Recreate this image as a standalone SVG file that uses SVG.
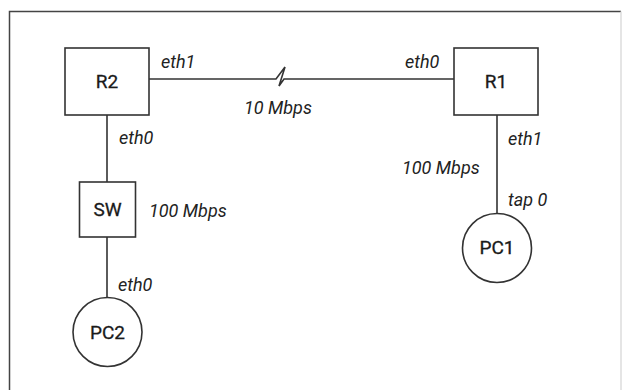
<svg xmlns="http://www.w3.org/2000/svg" width="626" height="390" viewBox="0 0 626 390">
<style>
.frame{stroke:#444;stroke-width:1.5;fill:none}
.frame2{stroke:#ddd;stroke-width:1.5;fill:none}
.node{fill:#fff;stroke:#333;stroke-width:1.6}
.link{stroke:#333;stroke-width:1.6;fill:none}
.nl{font-family:Roboto,"Liberation Sans",Arial,sans-serif;font-size:19px;font-weight:400;fill:#1a1a1a;stroke:#1a1a1a;stroke-width:0.3;text-anchor:middle}
.lbl{font-family:Roboto,"Liberation Sans",Arial,sans-serif;font-size:18px;font-style:italic;fill:#222}
</style>
<rect x="0" y="0" width="626" height="390" fill="#fff"/>
<path class="frame" d="M9.5 390 V11.5 H621"/>
<path class="frame2" d="M621 11.5 V390"/>
<g id="connectors">
<path class="link" d="M149 79 H276 L285 67 L279 86 L284 79 H454"/>
<path class="link" d="M107 115 V182"/>
<path class="link" d="M107 237 V297"/>
<path class="link" d="M497 115 V213"/>
</g>
<g id="R2"><rect class="node" x="65" y="48" width="84" height="67"/><text class="nl" x="107" y="88">R2</text></g>
<g id="R1"><rect class="node" x="454" y="48" width="84" height="67"/><text class="nl" x="496" y="88">R1</text></g>
<g id="SW"><rect class="node" x="79.5" y="182" width="56" height="55"/><text class="nl" x="107.5" y="216">SW</text></g>
<g id="PC2"><circle class="node" cx="107.5" cy="332" r="34.5"/><text class="nl" x="107.5" y="339">PC2</text></g>
<g id="PC1"><circle class="node" cx="497" cy="248" r="34.5"/><text class="nl" x="497" y="254">PC1</text></g>
<g id="labels">
<text class="lbl" x="161" y="68">eth1</text>
<text class="lbl" x="405" y="68">eth0</text>
<text class="lbl" x="244" y="114">10 Mbps</text>
<text class="lbl" x="119" y="144">eth0</text>
<text class="lbl" x="149" y="217">100 Mbps</text>
<text class="lbl" x="118" y="291">eth0</text>
<text class="lbl" x="508" y="145">eth1</text>
<text class="lbl" x="402" y="174">100 Mbps</text>
<text class="lbl" x="508" y="206">tap 0</text>
</g>
</svg>
